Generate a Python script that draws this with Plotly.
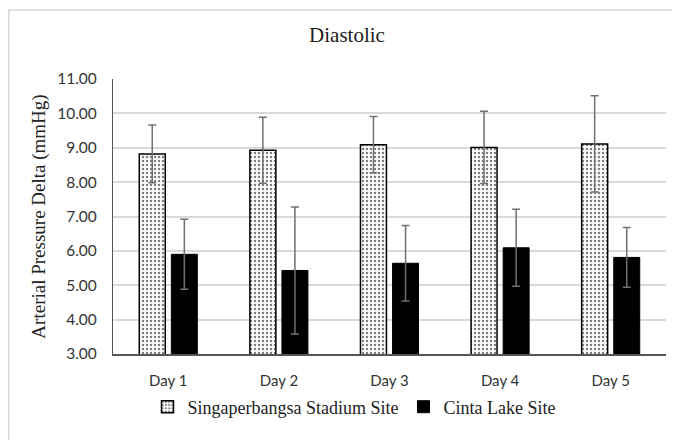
import plotly.graph_objects as go

days = ["Day 1", "Day 2", "Day 3", "Day 4", "Day 5"]
stadium = [8.82, 8.93, 9.09, 9.01, 9.11]
stadium_err = [0.84, 0.96, 0.82, 1.05, 1.40]
cinta = [5.90, 5.43, 5.64, 6.09, 5.81]
cinta_err = [1.02, 1.85, 1.10, 1.12, 0.87]
yticks = [3, 4, 5, 6, 7, 8, 9, 10, 11]

# page has an 8px body offset; figure coords = image coords - 8
W, H = 680, 440
L, R, T, B = 105, 22, 71, 94
pw, ph = W - L - R, H - T - B

fig = go.Figure()
fig.add_trace(go.Bar(
    x=days, y=stadium, name="Singaperbangsa Stadium Site",
    marker=dict(color="white", line=dict(color="black", width=1.5),
                pattern=dict(shape=".", fgcolor="black", bgcolor="white", size=4, solidity=0.3)),
    error_y=dict(type="data", array=stadium_err, visible=True, color="#707070", thickness=1.5, width=4),
))
fig.add_trace(go.Bar(
    x=days, y=cinta, name="Cinta Lake Site",
    marker=dict(color="black", line=dict(color="black", width=1)),
    error_y=dict(type="data", array=cinta_err, visible=True, color="#707070", thickness=1.5, width=4),
))

fig.update_layout(
    width=W, height=H,
    margin=dict(l=L, r=R, t=T, b=B),
    paper_bgcolor="white", plot_bgcolor="white",
    barmode="group", bargap=0.42, bargroupgap=0.19,
    title=dict(text="Diastolic", x=339 / W, xanchor="center", y=1 - 27 / H, yanchor="middle",
               font=dict(family="Liberation Serif", size=21, color="#222")),
    font=dict(family="Lato", size=15, color="#333"),
    showlegend=True,
    legend=dict(orientation="h", x=(346 - L) / pw, xanchor="center", y=-(399 - (T + ph)) / ph, yanchor="middle",
                font=dict(family="Liberation Serif", size=18, color="#222"),
                itemwidth=30, traceorder="normal"),
    yaxis=dict(range=[3, 11], tickvals=yticks, tickformat=".2f",
               showgrid=True, gridcolor="#d9d9d9", gridwidth=1.5,
               showline=True, linecolor="#555", linewidth=1.2,
               ticks="outside", ticklen=12, tickcolor="rgba(0,0,0,0)", zeroline=False,
               tickfont=dict(family="Lato", size=15.5, color="#333"),
               title=dict(text="Arterial Pressure Delta (mmHg)", standoff=6,
                          font=dict(family="Liberation Serif", size=19, color="#222"))),
    xaxis=dict(showline=True, linecolor="#555", linewidth=1.5,
               ticks="outside", ticklen=12, tickcolor="rgba(0,0,0,0)",
               tickfont=dict(family="Lato", size=15, color="#333")),
    shapes=[dict(type="rect", xref="paper", yref="paper",
                 x0=(0.75 - L) / pw, x1=(700 - L) / pw,
                 y0=-(470 - T - ph) / ph, y1=1 + (T - 2) / ph,
                 line=dict(color="#d9d9d9", width=1.5), layer="below")],
)

fig.write_html("out.html")
